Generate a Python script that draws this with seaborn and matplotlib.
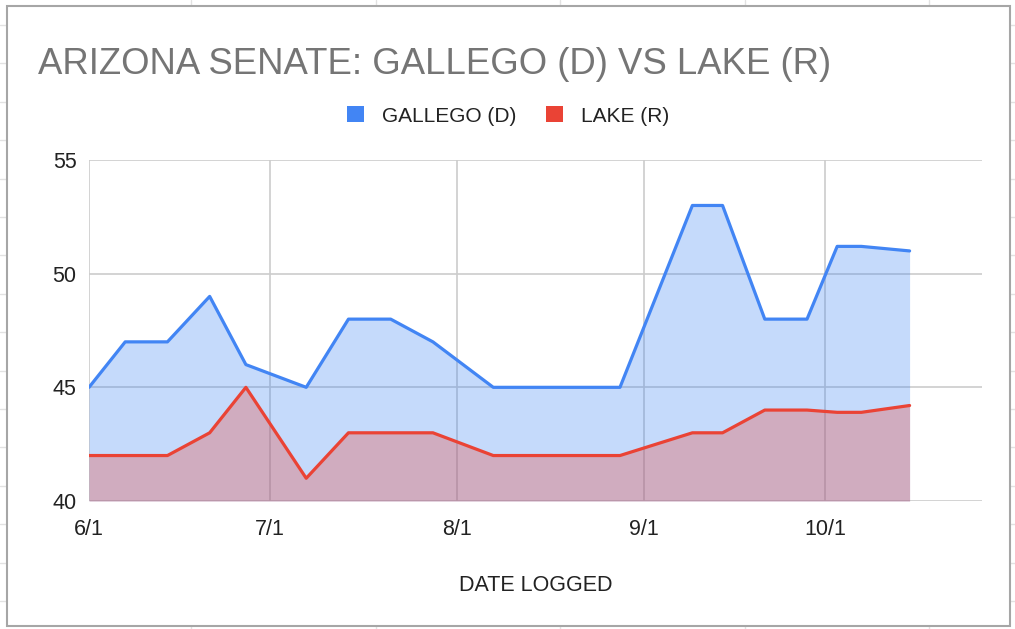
import matplotlib
matplotlib.use("Agg")
import matplotlib.pyplot as plt
import matplotlib.dates as mdates
from matplotlib.patches import Patch, Rectangle
from matplotlib.lines import Line2D
import seaborn as sns
import pandas as pd

# ---- data ----
dates = ["2024-06-01", "2024-06-07", "2024-06-14", "2024-06-21", "2024-06-27",
         "2024-07-07", "2024-07-14", "2024-07-21", "2024-07-28", "2024-08-07",
         "2024-08-28", "2024-09-09", "2024-09-14", "2024-09-21", "2024-09-28",
         "2024-10-03", "2024-10-07", "2024-10-15"]
gallego = [45, 47, 47, 49, 46, 45, 48, 48, 47, 45, 45, 53, 53, 48, 48, 51.2, 51.2, 51.0]
lake = [42, 42, 42, 43, 45, 41, 43, 43, 43, 42, 42, 43, 43, 44, 44, 43.9, 43.9, 44.2]
series_names = ["GALLEGO (D)", "LAKE (R)"]
series_colors = ["#4285F4", "#EA4335"]
tick_dates = ["2024-06-01", "2024-07-01", "2024-08-01", "2024-09-01", "2024-10-01"]
tick_labels = ["6/1", "7/1", "8/1", "9/1", "10/1"]
y_ticks = [40, 45, 50, 55]
title = "ARIZONA SENATE: GALLEGO (D) VS LAKE (R)"
x_label = "DATE LOGGED"

sns.set_theme(style="white")
plt.rcParams["font.family"] = ["Liberation Sans", "DejaVu Sans"]

W, H = 1015, 629
fig = plt.figure(figsize=(W / 100, H / 100), dpi=100)
fig.patch.set_facecolor("white")

# spreadsheet grid behind the chart box
for k in range(16):
    y = 25 + 38.4 * k
    fig.add_artist(Line2D([0, 1], [1 - y / H, 1 - y / H], transform=fig.transFigure,
                          color="#e2e2e2", lw=1, zorder=-3))
for k in range(5):
    x = 191 + 184.5 * k
    fig.add_artist(Line2D([x / W, x / W], [0, 1], transform=fig.transFigure,
                          color="#e2e2e2", lw=1, zorder=-3))
fig.add_artist(Rectangle((7 / W, 1 - 626 / H), (1010 - 7) / W, (626 - 6) / H,
                         transform=fig.transFigure, facecolor="white",
                         edgecolor="#a6a6a6", lw=1.5, zorder=-2))

ax = fig.add_axes([89 / W, 1 - 501 / H, (982 - 89) / W, (501 - 160) / H])
ax.patch.set_alpha(0)

x = pd.to_datetime(dates)
df = pd.DataFrame({
    "date": list(x) * 2,
    "value": gallego + lake,
    "candidate": [series_names[0]] * len(dates) + [series_names[1]] * len(dates),
})

xn = mdates.date2num(x)
ax.fill_between(xn, 40, gallego, color=series_colors[0], alpha=0.3, lw=0, zorder=1)
ax.fill_between(xn, 40, lake, color=series_colors[1], alpha=0.3, lw=0, zorder=1)
sns.lineplot(data=df, x="date", y="value", hue="candidate",
             palette=dict(zip(series_names, series_colors)), lw=2.3,
             legend=False, ax=ax, zorder=3)

ax.set_xlim(pd.Timestamp("2024-06-01"), pd.Timestamp("2024-10-27"))
ax.set_ylim(40, 55)
ax.set_xticks(pd.to_datetime(tick_dates))
ax.set_xticklabels(tick_labels)
ax.set_yticks(y_ticks)
ax.set_yticklabels([str(v) for v in y_ticks])
ax.set_axisbelow(True)
ax.grid(True, color="#cccccc", lw=1.2)
for s in ax.spines.values():
    s.set_visible(False)
ax.tick_params(axis="both", length=0, labelsize=15.5, labelcolor="#222222")
ax.tick_params(axis="x", pad=13)
ax.tick_params(axis="y", pad=9)
ax.set_ylabel("")
ax.set_xlabel(x_label, fontsize=15.5, color="#222222", labelpad=25)

fig.text(38 / W, 1 - 74 / H, title, fontsize=26.3, color="#757575",
         ha="left", va="baseline")

handles = [Patch(facecolor=c, edgecolor="none") for c in series_colors]
fig.legend(handles, series_names, loc="center", bbox_to_anchor=(508 / W, 1 - 116 / H),
           ncol=2, frameon=False, fontsize=15, handlelength=0.8, handleheight=0.8,
           handletextpad=0.85, columnspacing=1.45, labelcolor="#222222")

fig.savefig("out.png", dpi=100)
